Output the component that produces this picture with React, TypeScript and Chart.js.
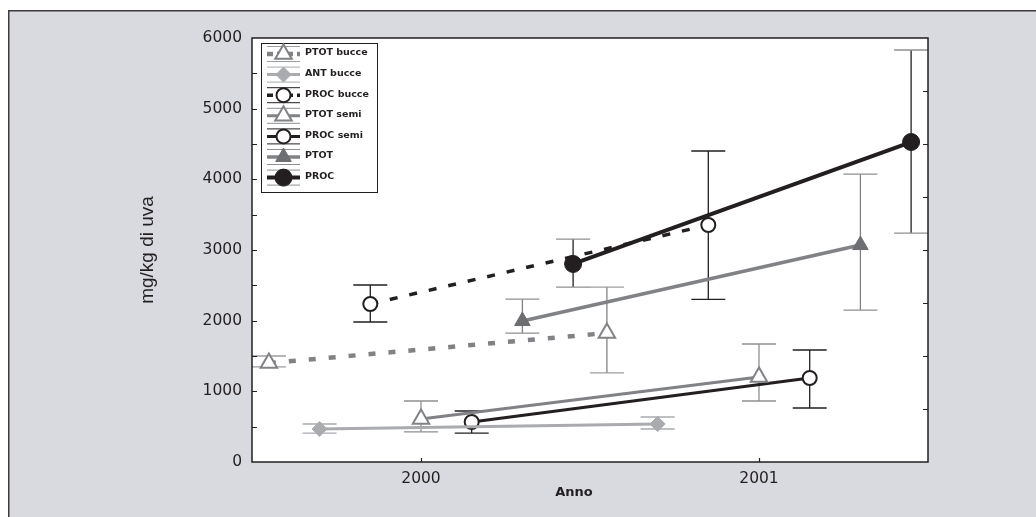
import React, { useEffect, useRef } from "react";
import { Chart, registerables } from "chart.js";

Chart.register(...registerables);

// ---- data ----
const seriesNames = ["PTOT bucce", "ANT bucce", "PROC bucce", "PTOT semi", "PROC semi", "PTOT", "PROC"];

const ptotBucceX = [1999.55, 2000.55];
const ptotBucceY = [1400, 1825];
const ptotBucceLo = [1345, 1260];
const ptotBucceHi = [1500, 2476];

const antBucceX = [1999.7, 2000.7];
const antBucceY = [467, 538];
const antBucceLo = [410, 467];
const antBucceHi = [538, 637];

const procBucceX = [1999.85, 2000.85];
const procBucceY = [2236, 3354];
const procBucceLo = [1981, 2300];
const procBucceHi = [2505, 4401];

const ptotSemiX = [2000.0, 2001.0];
const ptotSemiY = [608, 1203];
const ptotSemiLo = [425, 863];
const ptotSemiHi = [863, 1670];

const procSemiX = [2000.15, 2001.15];
const procSemiY = [566, 1189];
const procSemiLo = [410, 764];
const procSemiHi = [722, 1585];

const ptotX = [2000.3, 2001.3];
const ptotY = [1995, 3070];
const ptotLo = [1825, 2150];
const ptotHi = [2306, 4075];

const procX = [2000.45, 2001.45];
const procY = [2802, 4528];
const procLo = [2476, 3240];
const procHi = [3155, 5830];

const xTickValues = [2000, 2001];
const xTickLabels = ["2000", "2001"];
const yTickValues = [0, 1000, 2000, 3000, 4000, 5000, 6000];
const yLeftMarks = [500, 1000, 1500, 2000, 2500, 3000, 3500, 4000, 4500, 5000, 5500];
const yRightMarks = [750, 1500, 2250, 3000, 3750, 4500, 5250];
const xMin = 1999.5;
const xMax = 2001.5;
const yMin = 0;
const yMax = 6000;

const yTitle = "mg/kg di uva";
const xTitle = "Anno";

// ---- styles ----
const DARK = "#231f20";
const GRAY = "#808285";
const LIGHT = "#a9abae";

const xs = [ptotBucceX, antBucceX, procBucceX, ptotSemiX, procSemiX, ptotX, procX];
const ys = [ptotBucceY, antBucceY, procBucceY, ptotSemiY, procSemiY, ptotY, procY];
const los = [ptotBucceLo, antBucceLo, procBucceLo, ptotSemiLo, procSemiLo, ptotLo, procLo];
const his = [ptotBucceHi, antBucceHi, procBucceHi, ptotSemiHi, procSemiHi, ptotHi, procHi];

const styles = [
  { line: GRAY, width: 4.5, dash: [7, 13], pstyle: "triangle", r: 9.5, fill: "#ffffff", stroke: GRAY, bw: 2, err: GRAY, cap: "#9b9da0" },
  { line: LIGHT, width: 3, dash: [], pstyle: "rectRot", r: 7.5, fill: LIGHT, stroke: LIGHT, bw: 1, err: LIGHT, cap: LIGHT },
  { line: DARK, width: 3.5, dash: [8, 12], pstyle: "circle", r: 7, fill: "#ffffff", stroke: DARK, bw: 2, err: DARK, cap: DARK },
  { line: GRAY, width: 3, dash: [], pstyle: "triangle", r: 9.5, fill: "#ffffff", stroke: GRAY, bw: 2, err: "#8e9093", cap: "#8e9093" },
  { line: DARK, width: 3, dash: [], pstyle: "circle", r: 7, fill: "#ffffff", stroke: DARK, bw: 2, err: DARK, cap: DARK },
  { line: GRAY, width: 3.5, dash: [], pstyle: "triangle", r: 9, fill: "#6d6e71", stroke: "#6d6e71", bw: 1, err: GRAY, cap: "#8e9093" },
  { line: DARK, width: 4, dash: [], pstyle: "circle", r: 8.5, fill: DARK, stroke: DARK, bw: 1, err: DARK, cap: "#8e9093" },
];

const FONT = "'Liberation Sans', Arial, sans-serif";
const WIDE = "'DejaVu Sans', Verdana, sans-serif";

function drawMarker(ctx: CanvasRenderingContext2D, style: string, x: number, y: number, r: number) {
  ctx.beginPath();
  if (style === "circle") {
    ctx.arc(x, y, r, 0, Math.PI * 2);
  } else if (style === "triangle") {
    for (let k = 0; k < 3; k++) {
      const a = (k * 2 * Math.PI) / 3;
      const px = x + Math.sin(a) * r;
      const py = y - Math.cos(a) * r;
      if (k === 0) ctx.moveTo(px, py);
      else ctx.lineTo(px, py);
    }
    ctx.closePath();
  } else {
    ctx.moveTo(x - r, y);
    ctx.lineTo(x, y - r);
    ctx.lineTo(x + r, y);
    ctx.lineTo(x, y + r);
    ctx.closePath();
  }
}

const framePlugin = {
  id: "frame",
  beforeDraw(chart: any) {
    const { ctx, width, height, chartArea: a } = chart;
    ctx.save();
    ctx.fillStyle = "#ffffff";
    ctx.fillRect(0, 0, width, height);
    ctx.fillStyle = "#d9dadf";
    ctx.fillRect(8, 10, width - 8, height - 10);
    ctx.strokeStyle = "#3c3a3b";
    ctx.lineWidth = 1.5;
    ctx.beginPath();
    ctx.moveTo(8.75, height);
    ctx.lineTo(8.75, 10.75);
    ctx.lineTo(width, 10.75);
    ctx.stroke();
    ctx.fillStyle = "#ffffff";
    ctx.fillRect(a.left, a.top, a.right - a.left, a.bottom - a.top);
    ctx.restore();
  },
  beforeDatasetsDraw(chart: any) {
    const { ctx } = chart;
    const xs_ = chart.scales.x;
    const ys_ = chart.scales.y;
    ctx.save();
    chart.data.datasets.forEach((ds: any, i: number) => {
      const st = styles[i];
      const xv = xs[i];
      for (let j = 0; j < xv.length; j++) {
        const px = xs_.getPixelForValue(xv[j]);
        const pl = ys_.getPixelForValue(los[i][j]);
        const ph = ys_.getPixelForValue(his[i][j]);
        ctx.lineWidth = 1.3;
        ctx.strokeStyle = st.err;
        ctx.beginPath();
        ctx.moveTo(px, pl);
        ctx.lineTo(px, ph);
        ctx.stroke();
        ctx.strokeStyle = st.cap;
        ctx.beginPath();
        ctx.moveTo(px - 17, pl);
        ctx.lineTo(px + 17, pl);
        ctx.moveTo(px - 17, ph);
        ctx.lineTo(px + 17, ph);
        ctx.stroke();
      }
    });
    ctx.restore();
  },
  afterDraw(chart: any) {
    const { ctx, chartArea: a } = chart;
    const xs_ = chart.scales.x;
    const ys_ = chart.scales.y;
    ctx.save();
    // axes box
    ctx.strokeStyle = DARK;
    ctx.lineWidth = 1.5;
    ctx.strokeRect(a.left, a.top, a.right - a.left, a.bottom - a.top);
    // inward ticks
    ctx.lineWidth = 1.2;
    ctx.beginPath();
    yLeftMarks.forEach((v) => {
      const py = Math.round(ys_.getPixelForValue(v)) + 0.5;
      ctx.moveTo(a.left, py);
      ctx.lineTo(a.left + 5, py);
    });
    yRightMarks.forEach((v) => {
      const py = Math.round(ys_.getPixelForValue(v)) + 0.5;
      ctx.moveTo(a.right, py);
      ctx.lineTo(a.right - 5, py);
    });
    xTickValues.forEach((v) => {
      const px = Math.round(xs_.getPixelForValue(v)) + 0.5;
      ctx.moveTo(px, a.bottom);
      ctx.lineTo(px, a.bottom - 4);
    });
    ctx.stroke();

    // x axis title
    ctx.fillStyle = DARK;
    ctx.font = `bold 13px ${WIDE}`;
    ctx.textAlign = "center";
    ctx.textBaseline = "middle";
    ctx.fillText(xTitle, 574, 493);

    // legend
    const lx = 261.5, ly = 43.5, lw = 116, lh = 149;
    ctx.fillStyle = "#ffffff";
    ctx.fillRect(lx, ly, lw, lh);
    ctx.strokeStyle = DARK;
    ctx.lineWidth = 1;
    ctx.strokeRect(lx, ly, lw, lh);
    chart.data.datasets.forEach((ds: any, i: number) => {
      const st = styles[i];
      const cy = 54 + i * 20.6;
      const x0 = 267, x1 = 300, cx = 283.5;
      ctx.setLineDash([]);
      ctx.lineWidth = 1;
      ctx.strokeStyle = st.cap;
      ctx.beginPath();
      ctx.moveTo(x0, cy - 7.5);
      ctx.lineTo(x1, cy - 7.5);
      ctx.moveTo(x0, cy + 7.5);
      ctx.lineTo(x1, cy + 7.5);
      ctx.stroke();
      ctx.strokeStyle = st.line;
      ctx.lineWidth = st.width;
      ctx.setLineDash(st.dash.length ? [6, 4] : []);
      ctx.beginPath();
      ctx.moveTo(x0, cy);
      ctx.lineTo(x1, cy);
      ctx.stroke();
      ctx.setLineDash([]);
      drawMarker(ctx, st.pstyle, cx, cy, st.r);
      ctx.fillStyle = st.fill;
      ctx.fill();
      ctx.lineWidth = st.bw;
      ctx.strokeStyle = st.stroke;
      ctx.stroke();
      ctx.fillStyle = DARK;
      ctx.font = `bold 9.5px ${WIDE}`;
      ctx.textAlign = "left";
      ctx.textBaseline = "middle";
      ctx.fillText(ds.label, 305, cy - 1);
    });
    ctx.restore();
  },
};

export default function App() {
  const ref = useRef<HTMLCanvasElement | null>(null);
  useEffect(() => {
    if (!ref.current) return;
    const datasets = seriesNames.map((name, i) => {
      const st = styles[i];
      return {
        label: name,
        data: xs[i].map((x, j) => ({ x, y: ys[i][j] })),
        borderColor: st.line,
        borderWidth: st.width,
        borderDash: st.dash,
        borderCapStyle: "butt",
        pointStyle: st.pstyle,
        pointRadius: st.r,
        pointBackgroundColor: st.fill,
        pointBorderColor: st.stroke,
        pointBorderWidth: st.bw,
        showLine: true,
        fill: false,
        tension: 0,
      };
    });
    const chart = new Chart(ref.current, {
      type: "line",
      data: { datasets } as any,
      plugins: [framePlugin],
      options: {
        animation: false,
        responsive: false,
        devicePixelRatio: 1,
        layout: { padding: { left: 0, top: 38, right: 108, bottom: 0 } },
        plugins: { legend: { display: false }, tooltip: { enabled: false } },
        scales: {
          x: {
            type: "linear",
            min: xMin,
            max: xMax,
            afterBuildTicks: (s: any) => {
              s.ticks = xTickValues.map((v) => ({ value: v }));
            },
            afterFit: (s: any) => {
              s.height = 55;
            },
            grid: { display: false, drawTicks: false },
            border: { display: false },
            ticks: {
              padding: 8,
              color: DARK,
              font: { family: WIDE, size: 15.5 },
              maxRotation: 0,
              callback: (v: any) => {
                const k = xTickValues.indexOf(Number(v));
                return k >= 0 ? xTickLabels[k] : "";
              },
            },
            title: { display: false },
          },
          y: {
            type: "linear",
            min: yMin,
            max: yMax,
            afterBuildTicks: (s: any) => {
              s.ticks = yTickValues.map((v) => ({ value: v }));
            },
            afterFit: (s: any) => {
              s.width = 252;
            },
            grid: { display: false, drawTicks: false },
            border: { display: false },
            ticks: {
              padding: 10,
              color: DARK,
              font: { family: WIDE, size: 15.5 },
              callback: (v: any) => String(v),
            },
            title: {
              display: true,
              text: yTitle,
              color: DARK,
              font: { family: FONT, size: 19 },
              padding: { top: 136, bottom: 0 },
            },
          },
        },
      } as any,
    });
    return () => chart.destroy();
  }, []);
  return (
    <div style={{ position: "absolute", left: 0, top: 0, width: 1036, height: 517, overflow: "hidden" }}>
      <canvas ref={ref} width={1036} height={517} style={{ display: "block" }} />
    </div>
  );
}
